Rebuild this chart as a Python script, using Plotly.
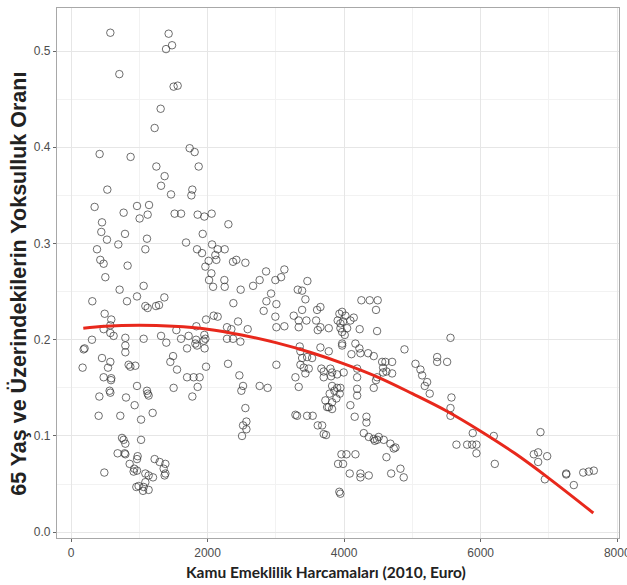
import plotly.graph_objects as go

# Public pension spending (2010, Euro) per country-year observation
pension_spending = [
    576, 1430, 1480, 1392, 708, 1503, 1562, 1313, 1225, 419, 873, 1738, 1811, 1250, 1870, 1371, 532, 1319, 1465, 1777, 1763,
    346, 967, 1143, 771, 1123, 1005, 1518, 1612, 1855, 1953, 2060, 454, 2305, 444, 791, 1929, 527, 1113, 693, 1685,
    1089, 381, 1846, 1919, 2066, 2148, 2251, 2114, 2129, 2016, 1968, 429, 478, 829, 2373, 2422, 2554, 2056, 503, 2857,
    2022, 2246, 2763, 2993, 2081, 2251, 2667, 1064, 712, 2485, 2930, 967, 1367, 312, 820, 2378, 2862, 3008, 1089, 1123,
    1245, 1289, 2822, 493, 590, 2993, 2090, 2148, 1978, 2447, 576, 478, 3008, 1836, 2285, 2349, 2588, 576, 624, 1319,
    1543, 1723, 1953, 1968, 1943, 796, 1064, 1612, 1832, 2285, 2373, 2481, 307, 199, 185, 1396, 796, 796, 1700, 1821,
    1846, 1957, 1495, 1455, 1553, 454, 576, 2300, 3008, 542, 170, 844, 869, 942, 1978, 2466, 478, 590, 1700, 1796, 1884,
    586, 2520, 2763, 2880, 967, 1503, 1855, 566, 576, 2495, 1113, 1123, 1137, 415, 806, 1777, 932, 1196, 405, 722, 1026,
    2554, 2569, 2520, 2569, 2505, 747, 771, 796, 1026, 683, 786, 796, 976, 967, 1225, 1298, 1382, 859, 927, 1357, 1382,
    1371, 488, 917, 967, 1089, 1137, 1201, 1089, 1064, 957, 990, 1055, 1137,
    3125, 3077, 3462, 3321, 3385, 3433, 4253, 4375, 4492, 3385, 3653, 3604, 4467, 3262, 3335, 3448, 3590, 3931, 3971,
    4019, 4141, 3906, 3946, 3985, 4092, 3125, 3335, 3614, 3653, 3775, 3946, 3971, 4009, 4044, 4228, 4483, 3971, 3971,
    4165, 4224, 4239, 4352, 4434, 4107, 4884, 5558, 3350, 3360, 3653, 3775, 3385, 3458, 3531, 3360, 3409, 3482, 3433,
    3287, 3335, 3667, 3701, 3799, 3824, 3898, 3994, 3701, 3809, 4191, 4191, 4557, 4605, 4703, 4571, 4620, 4703, 4571,
    4483, 4434, 4467, 5045, 5118, 5143, 5363, 5363, 5509, 5216, 5181, 5254, 3824, 3898, 3946, 3789, 3858, 3936, 3887,
    3824, 3775, 3824, 3726, 3751, 4191, 4191, 4092, 4155, 3287, 3311, 3458, 3540, 3614, 3678, 3701, 3736, 4327, 4327,
    4288, 4361, 4434, 4483, 4449, 4507, 4580, 4678, 4727, 4620, 4752, 3961, 4034, 4166, 3912, 3985, 4082, 4239, 4361,
    4239, 4689, 4825, 4873, 5645, 5572, 5558, 5558, 5884, 5802, 5875, 5938, 5938, 3930, 3945,
    6192, 6207, 6876, 6778, 6842, 6842, 6974, 6940, 7253, 7253, 7364, 7502, 7584, 7657,
]

# Poverty rate of people aged 65+
poverty_rate = [
    0.519, 0.518, 0.506, 0.502, 0.476, 0.463, 0.464, 0.440, 0.420, 0.393, 0.390, 0.399, 0.395, 0.380, 0.380, 0.370, 0.356, 0.360, 0.351, 0.356, 0.350,
    0.338, 0.339, 0.340, 0.332, 0.330, 0.326, 0.331, 0.331, 0.330, 0.328, 0.331, 0.322, 0.320, 0.312, 0.310, 0.310, 0.304, 0.305, 0.299, 0.301,
    0.294, 0.294, 0.294, 0.290, 0.299, 0.294, 0.294, 0.288, 0.283, 0.282, 0.276, 0.283, 0.279, 0.277, 0.281, 0.283, 0.280, 0.269, 0.265, 0.271,
    0.262, 0.262, 0.262, 0.262, 0.255, 0.255, 0.256, 0.256, 0.252, 0.252, 0.248, 0.245, 0.244, 0.240, 0.240, 0.238, 0.240, 0.237, 0.235, 0.233,
    0.235, 0.236, 0.230, 0.227, 0.221, 0.224, 0.225, 0.224, 0.221, 0.219, 0.215, 0.211, 0.213, 0.214, 0.213, 0.211, 0.211, 0.207, 0.204, 0.204,
    0.210, 0.204, 0.205, 0.201, 0.199, 0.202, 0.201, 0.201, 0.200, 0.201, 0.201, 0.198, 0.200, 0.191, 0.190, 0.197, 0.194, 0.187, 0.191, 0.196,
    0.194, 0.191, 0.183, 0.177, 0.169, 0.181, 0.177, 0.175, 0.174, 0.171, 0.171, 0.174, 0.172, 0.173, 0.172, 0.163, 0.161, 0.160, 0.161, 0.161, 0.161,
    0.158, 0.152, 0.152, 0.150, 0.152, 0.150, 0.151, 0.147, 0.145, 0.147, 0.147, 0.144, 0.142, 0.141, 0.140, 0.141, 0.132, 0.124, 0.121, 0.121, 0.117,
    0.129, 0.115, 0.111, 0.107, 0.100, 0.098, 0.096, 0.092, 0.096, 0.082, 0.082, 0.081, 0.079, 0.076, 0.076, 0.073, 0.071, 0.071, 0.066, 0.066, 0.061,
    0.059, 0.062, 0.063, 0.064, 0.061, 0.059, 0.057, 0.052, 0.047, 0.047, 0.048, 0.043, 0.044,
    0.273, 0.265, 0.261, 0.252, 0.251, 0.242, 0.241, 0.241, 0.241, 0.231, 0.234, 0.231, 0.231, 0.225, 0.220, 0.220, 0.220, 0.227, 0.229,
    0.225, 0.223, 0.220, 0.217, 0.219, 0.220, 0.214, 0.213, 0.210, 0.213, 0.212, 0.212, 0.208, 0.205, 0.212, 0.211, 0.209, 0.196, 0.194,
    0.196, 0.191, 0.186, 0.186, 0.183, 0.185, 0.190, 0.202, 0.193, 0.188, 0.192, 0.188, 0.181, 0.182, 0.181, 0.174, 0.171, 0.170, 0.165,
    0.161, 0.151, 0.170, 0.167, 0.170, 0.166, 0.164, 0.166, 0.161, 0.162, 0.170, 0.161, 0.177, 0.177, 0.177, 0.171, 0.167, 0.165, 0.166,
    0.161, 0.150, 0.158, 0.175, 0.169, 0.163, 0.182, 0.177, 0.177, 0.156, 0.152, 0.144, 0.152, 0.150, 0.150, 0.144, 0.147, 0.144, 0.139,
    0.135, 0.130, 0.128, 0.137, 0.130, 0.149, 0.142, 0.132, 0.120, 0.122, 0.121, 0.121, 0.121, 0.111, 0.111, 0.102, 0.101, 0.120, 0.114,
    0.103, 0.099, 0.097, 0.096, 0.095, 0.099, 0.096, 0.092, 0.087, 0.078, 0.088, 0.081, 0.081, 0.081, 0.071, 0.071, 0.061, 0.061, 0.059,
    0.057, 0.061, 0.066, 0.057, 0.091, 0.140, 0.129, 0.121, 0.103, 0.091, 0.091, 0.091, 0.082, 0.042, 0.040,
    0.100, 0.071, 0.104, 0.081, 0.083, 0.073, 0.079, 0.055, 0.061, 0.060, 0.049, 0.062, 0.063, 0.064,
]

# Fitted quadratic trend
trend_x = [180, 500, 1000, 1500, 2000, 2500, 3000, 3500, 4000, 4500, 5000, 5500, 6000, 6500, 7000, 7650]
trend_y = [0.212, 0.214, 0.215, 0.214, 0.211, 0.205, 0.197, 0.187, 0.175, 0.161, 0.144, 0.126, 0.105, 0.082, 0.056, 0.020]

x_ticks = [0, 2000, 4000, 6000, 8000]
y_ticks = [0.0, 0.1, 0.2, 0.3, 0.4, 0.5]
y_tick_labels = ["0.0", "0.1", "0.2", "0.3", "0.4", "0.5"]

x_title = "Kamu Emeklilik Harcamaları (2010, Euro)"
y_title = "65 Yaş ve Üzerindekilerin Yoksulluk Oranı"

fig = go.Figure()
fig.add_trace(go.Scatter(
    x=pension_spending, y=poverty_rate, mode="markers",
    marker=dict(symbol="circle-open", size=7.5, color="rgba(50,50,50,0.7)", line=dict(width=1)),
    showlegend=False, hoverinfo="skip",
))
fig.add_trace(go.Scatter(
    x=trend_x, y=trend_y, mode="lines", line=dict(color="#e8281c", width=3, shape="spline"),
    showlegend=False, hoverinfo="skip",
))

axis_common = dict(
    showline=True, mirror=True, linecolor="#a8a8a8", linewidth=1.3,
    showgrid=True, gridcolor="#e6e6e6", gridwidth=1,
    ticks="outside", ticklen=3, tickcolor="#666", tickwidth=1,
    tickfont=dict(family="Liberation Sans", size=12, color="#4d4d4d"),
    zeroline=False, ticklabeloverflow="allow", automargin=False,
)

fig.update_layout(
    width=627, height=585,
    margin=dict(l=57, r=8, t=8, b=47),
    paper_bgcolor="white", plot_bgcolor="white",
    xaxis=dict(range=[-205, 8026], tickvals=x_ticks, ticktext=[str(v) for v in x_ticks],
               minor=dict(dtick=1000, tick0=0, showgrid=True, gridcolor="#f2f2f2", gridwidth=0.6, ticks=""),
               **axis_common),
    yaxis=dict(range=[-0.006, 0.5447], tickvals=y_ticks, ticktext=y_tick_labels,
               minor=dict(dtick=0.05, tick0=0, showgrid=True, gridcolor="#f2f2f2", gridwidth=0.6, ticks=""),
               **axis_common),
    annotations=[
        dict(text="<b>" + x_title + "</b>", xref="paper", yref="paper", x=0.479, y=-0.065,
             xanchor="center", yanchor="middle", showarrow=False,
             font=dict(family="Lato", size=15.5, color="#222")),
        dict(text="<b>" + y_title + "</b>", xref="paper", yref="paper", x=-0.069, y=0.48,
             xanchor="center", yanchor="middle", showarrow=False, textangle=-90,
             font=dict(family="Liberation Sans", size=21.5, color="#222")),
    ],
)

fig.write_html("out.html", config={"displayModeBar": False},
               post_script="document.body.style.margin='0';document.body.style.padding='0';")
